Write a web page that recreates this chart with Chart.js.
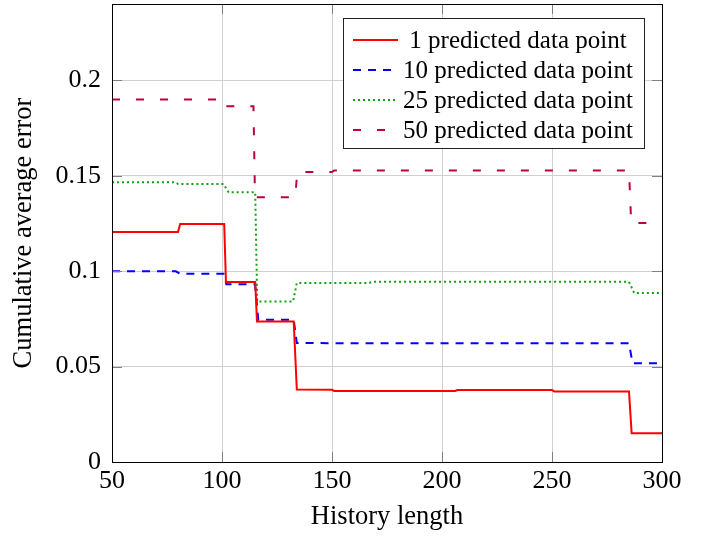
<!DOCTYPE html>
<html>
<head>
<meta charset="utf-8">
<script src="https://cdn.jsdelivr.net/npm/chart.js@4.4.1/dist/chart.umd.min.js"></script>
<style>
  html, body { margin: 0; padding: 0; background: #fff; }
  #wrap { width: 705px; height: 536px; }
</style>
</head>
<body>
<div id="wrap"><canvas id="myChart" width="705" height="536"></canvas></div>
<script>
const labels = [
  "1 predicted data point",
  "10 predicted data point",
  "25 predicted data point",
  "50 predicted data point",
];

// history length / cumulative average error
const p1X = [50, 80, 81, 101, 101.8, 115.1, 115.9, 132.6, 134, 150, 151, 206, 207, 250, 251, 285, 286.2, 300];
const p1Y = [0.1205, 0.1205, 0.1247, 0.1247, 0.0943, 0.0943, 0.0736, 0.0736, 0.038, 0.0378, 0.0372, 0.0372, 0.0377, 0.0377, 0.037, 0.0369, 0.0151, 0.0151];

const p10X = [50, 79, 81, 100.7, 102, 115, 116.5, 132.6, 134, 285, 286.6, 300];
const p10Y = [0.0999, 0.0999, 0.0986, 0.0986, 0.0932, 0.0932, 0.0745, 0.0745, 0.0623, 0.0622, 0.0518, 0.0518];

const p25X = [50, 79, 80, 100.7, 103, 115.1, 116, 132.3, 134, 167, 168, 285, 287.4, 300];
const p25Y = [0.1466, 0.1466, 0.1457, 0.1457, 0.1413, 0.1413, 0.0841, 0.0841, 0.0938, 0.0938, 0.0944, 0.0944, 0.0885, 0.0885];

const p50X = [50, 100, 100.5, 114.3, 115, 133.3, 134.2, 150, 151, 285, 286, 300];
const p50Y = [0.1899, 0.1899, 0.1864, 0.1864, 0.1387, 0.1387, 0.152, 0.152, 0.1528, 0.1528, 0.1252, 0.1252];

const xTicks = [50, 100, 150, 200, 250, 300];
const yTicks = [0, 0.05, 0.1, 0.15, 0.2];

const FONT = "'Liberation Serif', 'DejaVu Serif', serif";

const toPts = (xs, ys) => xs.map((x, i) => ({ x: x, y: ys[i] }));

const styles = [
  { color: "#ff0000", dash: [] },
  { color: "#0000ff", dash: [8, 7] },
  { color: "#10a010", dash: [2, 3] },
  { color: "#bf0040", dash: [8, 16] },
];

const series = [toPts(p1X, p1Y), toPts(p10X, p10Y), toPts(p25X, p25Y), toPts(p50X, p50Y)];

// frame, inner ticks and the boxed legend, pgfplots style
const framePlugin = {
  id: "frame",
  afterDatasetsDraw(chart) {
    const { ctx, chartArea: a, scales } = chart;
    ctx.save();
    ctx.strokeStyle = "#808080";
    ctx.lineWidth = 1;
    ctx.beginPath();
    xTicks.forEach((v) => {
      const px = Math.round(scales.x.getPixelForValue(v)) + 0.5;
      ctx.moveTo(px, a.bottom); ctx.lineTo(px, a.bottom - 10);
      ctx.moveTo(px, a.top); ctx.lineTo(px, a.top + 10);
    });
    yTicks.forEach((v) => {
      const py = Math.round(scales.y.getPixelForValue(v)) + 0.5;
      ctx.moveTo(a.left, py); ctx.lineTo(a.left + 10, py);
      ctx.moveTo(a.right, py); ctx.lineTo(a.right - 10, py);
    });
    ctx.stroke();

    ctx.strokeStyle = "#000";
    ctx.strokeRect(Math.round(a.left) + 0.5, Math.round(a.top) + 0.5,
      Math.round(a.right - a.left), Math.round(a.bottom - a.top));

    // legend
    const lx = 343, ly = 18, lw = 301, lh = 130;
    ctx.fillStyle = "#fff";
    ctx.fillRect(lx, ly, lw, lh);
    ctx.strokeStyle = "#222";
    ctx.strokeRect(lx + 0.5, ly + 0.5, lw, lh);
    ctx.font = "25px " + FONT;
    ctx.textAlign = "center";
    ctx.textBaseline = "middle";
    labels.forEach((t, i) => {
      const cy = 40 + i * 30;
      ctx.strokeStyle = styles[i].color;
      ctx.lineWidth = 2;
      ctx.setLineDash(styles[i].dash);
      ctx.beginPath();
      ctx.moveTo(353, cy); ctx.lineTo(398, cy);
      ctx.stroke();
      ctx.setLineDash([]);
      ctx.fillStyle = "#000";
      ctx.fillText(t, 518, cy + 1);
    });
    ctx.restore();
  },
};

const ctx = document.getElementById("myChart");

new Chart(ctx, {
  type: "line",
  data: {
    datasets: series.map((pts, i) => ({
      label: labels[i],
      data: pts,
      borderColor: styles[i].color,
      borderDash: styles[i].dash,
      borderWidth: 2,
      pointRadius: 0,
      tension: 0,
      fill: false,
    })),
  },
  options: {
    responsive: false,
    animation: false,
    events: [],
    layout: { padding: { top: 4, right: 43, left: 0, bottom: 0 } },
    plugins: {
      legend: { display: false },
      tooltip: { enabled: false },
    },
    scales: {
      x: {
        type: "linear",
        min: 50,
        max: 300,
        afterBuildTicks: (s) => { s.ticks = xTicks.map((v) => ({ value: v })); },
        afterFit: (s) => { s.height = 74; s.paddingLeft = 0; s.paddingRight = 0; },
        grid: { color: "#d0d0d0", drawTicks: false },
        border: { display: false },
        ticks: {
          padding: 4,
          color: "#000",
          font: { family: FONT, size: 26 },
          maxRotation: 0,
        },
        title: {
          display: true,
          text: "History length",
          color: "#000",
          font: { family: FONT, size: 26.5 },
          padding: { top: 0, bottom: 3 },
        },
      },
      y: {
        type: "linear",
        min: 0,
        max: 0.24,
        afterBuildTicks: (s) => { s.ticks = yTicks.map((v) => ({ value: v })); },
        afterFit: (s) => { s.width = 112; s.paddingTop = 0; s.paddingBottom = 0; },
        grid: { color: "#d0d0d0", drawTicks: false },
        border: { display: false },
        ticks: {
          padding: 11,
          color: "#000",
          font: { family: FONT, size: 26 },
          callback: (v) => String(Math.round(v * 100) / 100),
        },
        title: {
          display: true,
          text: "Cumulative average error",
          color: "#000",
          font: { family: FONT, size: 26.5 },
          padding: { top: 8, bottom: 0 },
        },
      },
    },
  },
  plugins: [framePlugin],
});
</script>
</body>
</html>
